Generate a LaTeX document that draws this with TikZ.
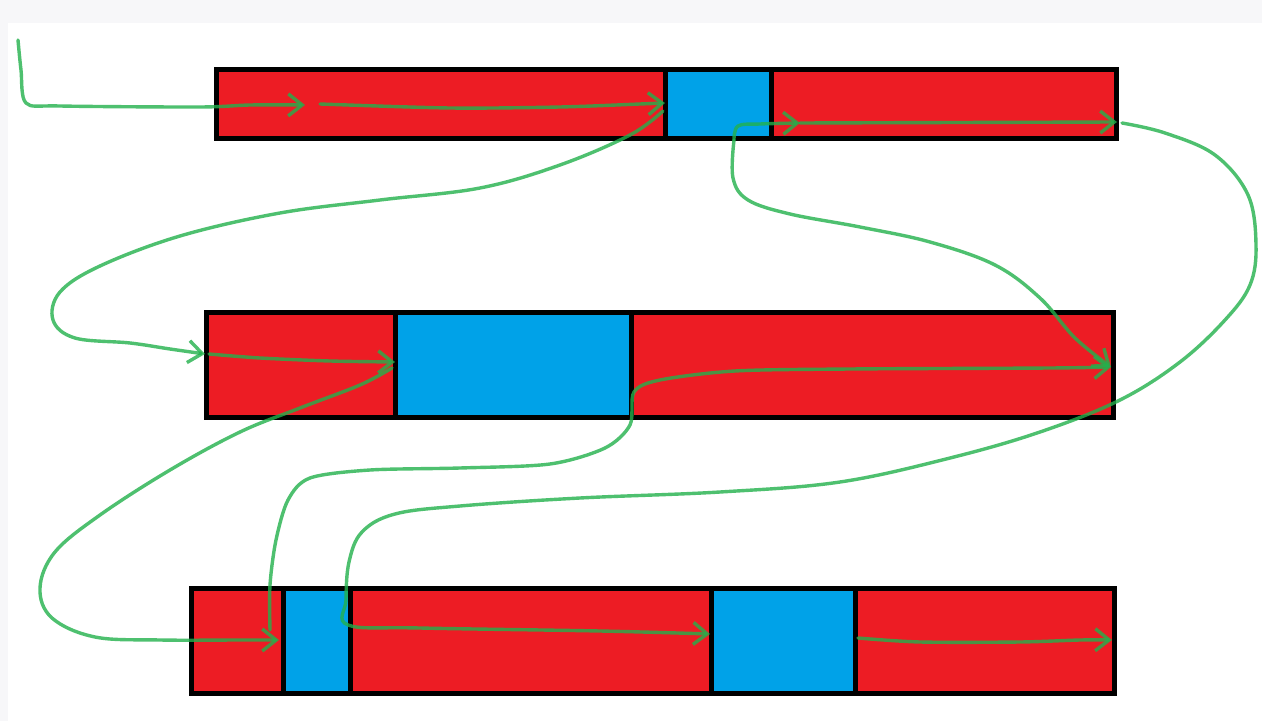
\documentclass[tikz,border=0pt]{standalone}
\usepackage{xcolor}
\usetikzlibrary{arrows.meta}
\definecolor{cellred}{RGB}{237,28,36}
\definecolor{cellblue}{RGB}{0,162,232}
\definecolor{pen}{RGB}{34,177,76}
\definecolor{paper}{RGB}{247,247,249}

\begin{document}
\begin{tikzpicture}[x=0.5pt, y=-0.5pt, >={Straight Barb[length=7pt,width=11pt]},
  redcell/.style={fill=cellred, draw=black, line width=2.5pt},
  bluecell/.style={fill=cellblue, draw=black, line width=2.5pt},
  trace/.style={draw=pen, draw opacity=0.8, line width=1.7pt, line cap=round, line join=round, ->}]
 % canvas
 \useasboundingbox (0,0) rectangle (1262,721);
 \fill[paper] (0,0) rectangle (1262,721);
 \fill[white] (8,23) rectangle (1262,721);
 % row 1
 \draw[redcell] (216,70) rectangle (665,139);
 \draw[bluecell] (665,70) rectangle (771,139);
 \draw[redcell] (771,70) rectangle (1116,139);
 % row 2
 \draw[redcell] (206,313) rectangle (395,417);
 \draw[bluecell] (395,313) rectangle (631,417);
 \draw[redcell] (631,313) rectangle (1113,417);
 % row 3
 \draw[redcell] (191,588) rectangle (283,693);
 \draw[bluecell] (283,588) rectangle (350,693);
 \draw[redcell] (350,588) rectangle (711,693);
 \draw[bluecell] (711,588) rectangle (855,693);
 \draw[redcell] (855,588) rectangle (1114,693);
 % points where the strokes start and end
 \coordinate (entry) at (18,40);
 \coordinate (r1mark) at (305,105);
 \coordinate (r1go) at (320,104);
 \coordinate (r1gap) at (665,103);
 \coordinate (r1back) at (663,111);
 \coordinate (r2in) at (205,354);
 \coordinate (r2go) at (209,354);
 \coordinate (r2gap) at (395,362);
 \coordinate (r2back) at (392,368);
 \coordinate (r3in) at (279,640);
 \coordinate (r3up) at (270,630);
 \coordinate (r2end) at (1111,367);
 \coordinate (r1bend) at (734,140);
 \coordinate (r1mid) at (800,123);
 \coordinate (r1end) at (1117,122);
 \coordinate (r1out) at (1122,123);
 \coordinate (r3gap) at (710,634);
 \coordinate (r3go) at (858,638);
 \coordinate (r3end) at (1112,640);
 % strokes
 \draw[trace] plot[smooth, tension=0.5] coordinates {(entry) (21,70) (26,103) (60,106) (200,107) (250,105) (r1mark)};
 \draw[trace] plot[smooth, tension=0.5] coordinates {(r1go) (450,108) (560,107) (640,104) (r1gap)};
 \draw[trace] plot[smooth, tension=0.6] coordinates {(r1back) (630,135) (560,165) (480,188) (380,200) (280,213) (180,236) (100,266) (60,292) (53,320) (75,338) (130,343) (170,349) (r2in)};
 \draw[trace] plot[smooth, tension=0.5] coordinates {(r2go) (260,358) (330,361) (r2gap)};
 \draw[trace] plot[smooth, tension=0.6] coordinates {(r2back) (360,385) (300,408) (240,432) (170,470) (100,515) (55,552) (40,588) (52,618) (95,637) (160,640) (240,640) (r3in)};
 \draw[trace] plot[smooth, tension=0.5] coordinates {(r3up) (270,585) (276,540) (288,500) (310,478) (370,470) (460,468) (550,464) (605,448) (630,425) (634,392) (660,380) (735,371) (850,369) (1050,368) (r2end)};
 \draw[trace] plot[smooth, tension=0.6] coordinates {(r1bend) (738,126) (760,124) (r1mid)};
 \draw[trace] plot[smooth, tension=0.6] coordinates {(r1bend) (733,178) (748,200) (790,214) (860,227) (930,242) (995,265) (1040,298) (1075,338) (r2end)};
 \draw[trace] (r1mid) -- (r1end);
 \draw[trace] plot[smooth, tension=0.6] coordinates {(r1out) (1165,133) (1215,155) (1248,195) (1256,245) (1250,285) (1225,320) (1180,362) (1120,400) (1040,432) (950,458) (840,482) (720,492) (580,498) (460,506) (395,514) (362,532) (349,562) (346,600) (348,625) (420,628) (600,631) (r3gap)};
 \draw[trace] plot[smooth, tension=0.5] coordinates {(r3go) (920,642) (1020,642) (1080,640) (r3end)};
\end{tikzpicture}
\end{document}
